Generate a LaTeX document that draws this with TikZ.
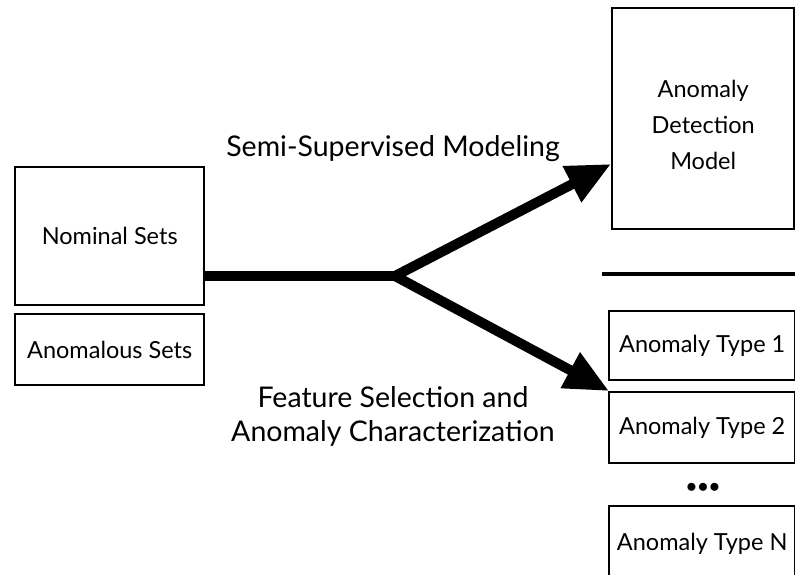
\documentclass[tikz,border=0pt]{standalone}
\usepackage{fontspec}
\setmainfont{Lato}
\usetikzlibrary{arrows.meta}
\begin{document}
\begin{tikzpicture}[x=1pt,y=-1pt,
  box/.style={draw,line width=2.4pt,inner sep=0pt,anchor=north west,align=center,font=\fontsize{23.5}{25}\selectfont},
  thick arrow/.style={line width=10pt,-{Triangle[length=44pt,width=38pt]}},
  lbl/.style={font=\fontsize{28.5}{34}\selectfont,align=center}]
\useasboundingbox (0,0) rectangle (795,574);
\node[box,minimum width=189pt,minimum height=138pt] (nom) at (14,166) {Nominal Sets};
\node[box,minimum width=189pt,minimum height=71pt] (anom) at (14,313) {Anomalous Sets};
\node[box,minimum width=182pt,minimum height=221pt] (model) at (611,7) {};
\node[align=center,font=\fontsize{23.5}{36}\selectfont,inner sep=0pt] (modeltxt) at ([yshift=-6pt]model.center) {Anomaly\\Detection\\Model};
\node[box,minimum width=186pt,minimum height=69pt] (t1) at (608,310) {Anomaly Type 1};
\node[box,minimum width=186pt,minimum height=71pt] (t2) at (608,391) {Anomaly Type 2};
\node[box,minimum width=186pt,minimum height=75pt] (tn) at (608,505) {Anomaly Type N};
\node[font=\fontsize{22}{22}\selectfont] (dots) at (703,488) {$\bullet\!\bullet\!\bullet$};
\coordinate (j) at (395,276);
\coordinate (sepL) at (602,274);
\coordinate (sepR) at (795,274);
\draw[line width=4pt] (sepL) -- (sepR);
\draw[line width=10pt] (nom.east |- j) -- (j);
\coordinate (tipU) at (611,164);
\coordinate (tipD) at (609,391);
\draw[thick arrow] (j) -- (tipU);
\draw[thick arrow] (j) -- (tipD);
\node[lbl] (semi) at (393,149) {Semi-Supervised Modeling};
\node[lbl] (feat) at (393,416) {Feature Selection and\\Anomaly Characterization};
\end{tikzpicture}
\end{document}
